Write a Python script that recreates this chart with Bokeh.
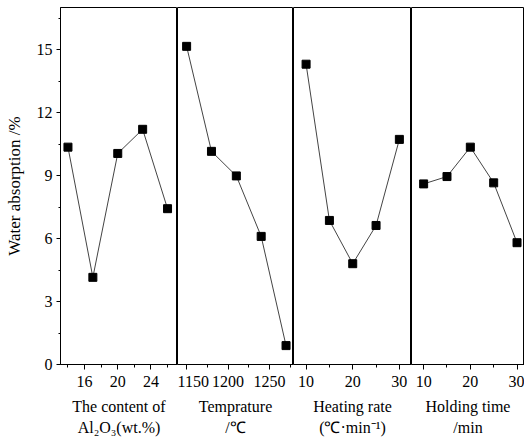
from bokeh.plotting import figure
from bokeh.layouts import row
from bokeh.models import FixedTicker, Range1d
from bokeh.embed import file_html
from bokeh.resources import INLINE

# ---- data ----
al2o3_content = [14, 17, 20, 23, 26]
al2o3_absorption = [10.35, 4.15, 10.05, 11.2, 7.42]

temperature = [1150, 1180, 1210, 1240, 1270]
temperature_absorption = [15.15, 10.15, 8.98, 6.1, 0.9]

heating_rate = [10, 15, 20, 25, 30]
heating_absorption = [14.3, 6.86, 4.8, 6.62, 10.72]

holding_time = [10, 15, 20, 25, 30]
holding_absorption = [8.6, 8.95, 10.35, 8.65, 5.8]

y_ticks = [0, 3, 6, 9, 12, 15]
y_minor = [1.5, 4.5, 7.5, 10.5, 13.5, 16.5]

panels = [
    dict(x=al2o3_content, y=al2o3_absorption, xr=(13.1, 27.2),
         ticks=[16, 20, 24], minor=[14, 18, 22, 26],
         title="The content of\nAl\u2082O\u2083(wt.%)", width=177),
    dict(x=temperature, y=temperature_absorption, xr=(1139, 1279),
         ticks=[1150, 1200, 1250], minor=[1175, 1225, 1275],
         title="Temprature\n/\u2103", width=116),
    dict(x=heating_rate, y=heating_absorption, xr=(7.3, 32.6),
         ticks=[10, 20, 30], minor=[15, 25],
         title="Heating rate\n(\u2103\u00b7min\u207b\u00b9)", width=118),
    dict(x=holding_time, y=holding_absorption, xr=(7.4, 31.6),
         ticks=[10, 20, 30], minor=[15, 25],
         title="Holding time\n/min", width=113),
]

FONT = "Liberation Serif"
y_range = Range1d(0, 17)
figs = []
for i, pn in enumerate(panels):
    p = figure(width=pn["width"], height=438, x_range=Range1d(*pn["xr"]),
               y_range=y_range, output_backend="svg", toolbar_location=None,
               y_axis_location="left" if i == 0 else None,
               min_border_top=7, min_border_bottom=73,
               min_border_left=60 if i == 0 else 0, min_border_right=0)
    p.grid.visible = False
    p.outline_line_color = "black"
    p.outline_line_width = 1
    p.background_fill_color = "white"
    p.border_fill_color = "white"

    p.line(pn["x"], pn["y"], line_color="#444444", line_width=1)
    p.scatter(pn["x"], pn["y"], marker="square", size=8,
              fill_color="black", line_color="black")

    ax = p.xaxis[0]
    ax.ticker = FixedTicker(ticks=pn["ticks"], minor_ticks=pn["minor"])
    ax.axis_label = pn["title"]
    ax.axis_label_text_font = FONT
    ax.axis_label_text_font_style = "normal"
    ax.axis_label_text_font_size = "16px"
    ax.axis_label_text_color = "black"
    ax.axis_label_text_line_height = 1.25
    ax.axis_label_standoff = 8
    ax.major_label_text_font = FONT
    ax.major_label_text_font_size = "16px"
    ax.major_label_text_color = "black"
    ax.major_label_standoff = 6
    ax.major_tick_out = 5
    ax.major_tick_in = 0
    ax.minor_tick_out = 3
    ax.minor_tick_in = 0
    ax.axis_line_color = "black"
    ax.major_tick_line_color = "black"
    ax.minor_tick_line_color = "black"

    if i == 0:
        ya = p.yaxis[0]
        ya.ticker = FixedTicker(ticks=y_ticks, minor_ticks=y_minor)
        ya.axis_label = "Water absorption /%"
        ya.axis_label_text_font = FONT
        ya.axis_label_text_font_style = "normal"
        ya.axis_label_text_font_size = "17px"
        ya.axis_label_text_color = "black"
        ya.axis_label_standoff = 10
        ya.major_label_text_font = FONT
        ya.major_label_text_font_size = "16px"
        ya.major_label_text_color = "black"
        ya.major_label_standoff = 4
        ya.major_tick_out = 4
        ya.major_tick_in = 0
        ya.minor_tick_out = 2
        ya.minor_tick_in = 0
        ya.axis_line_color = "black"
    figs.append(p)

layout = row(*figs, spacing=0)
open("out.html", "w").write(file_html(layout, INLINE))
